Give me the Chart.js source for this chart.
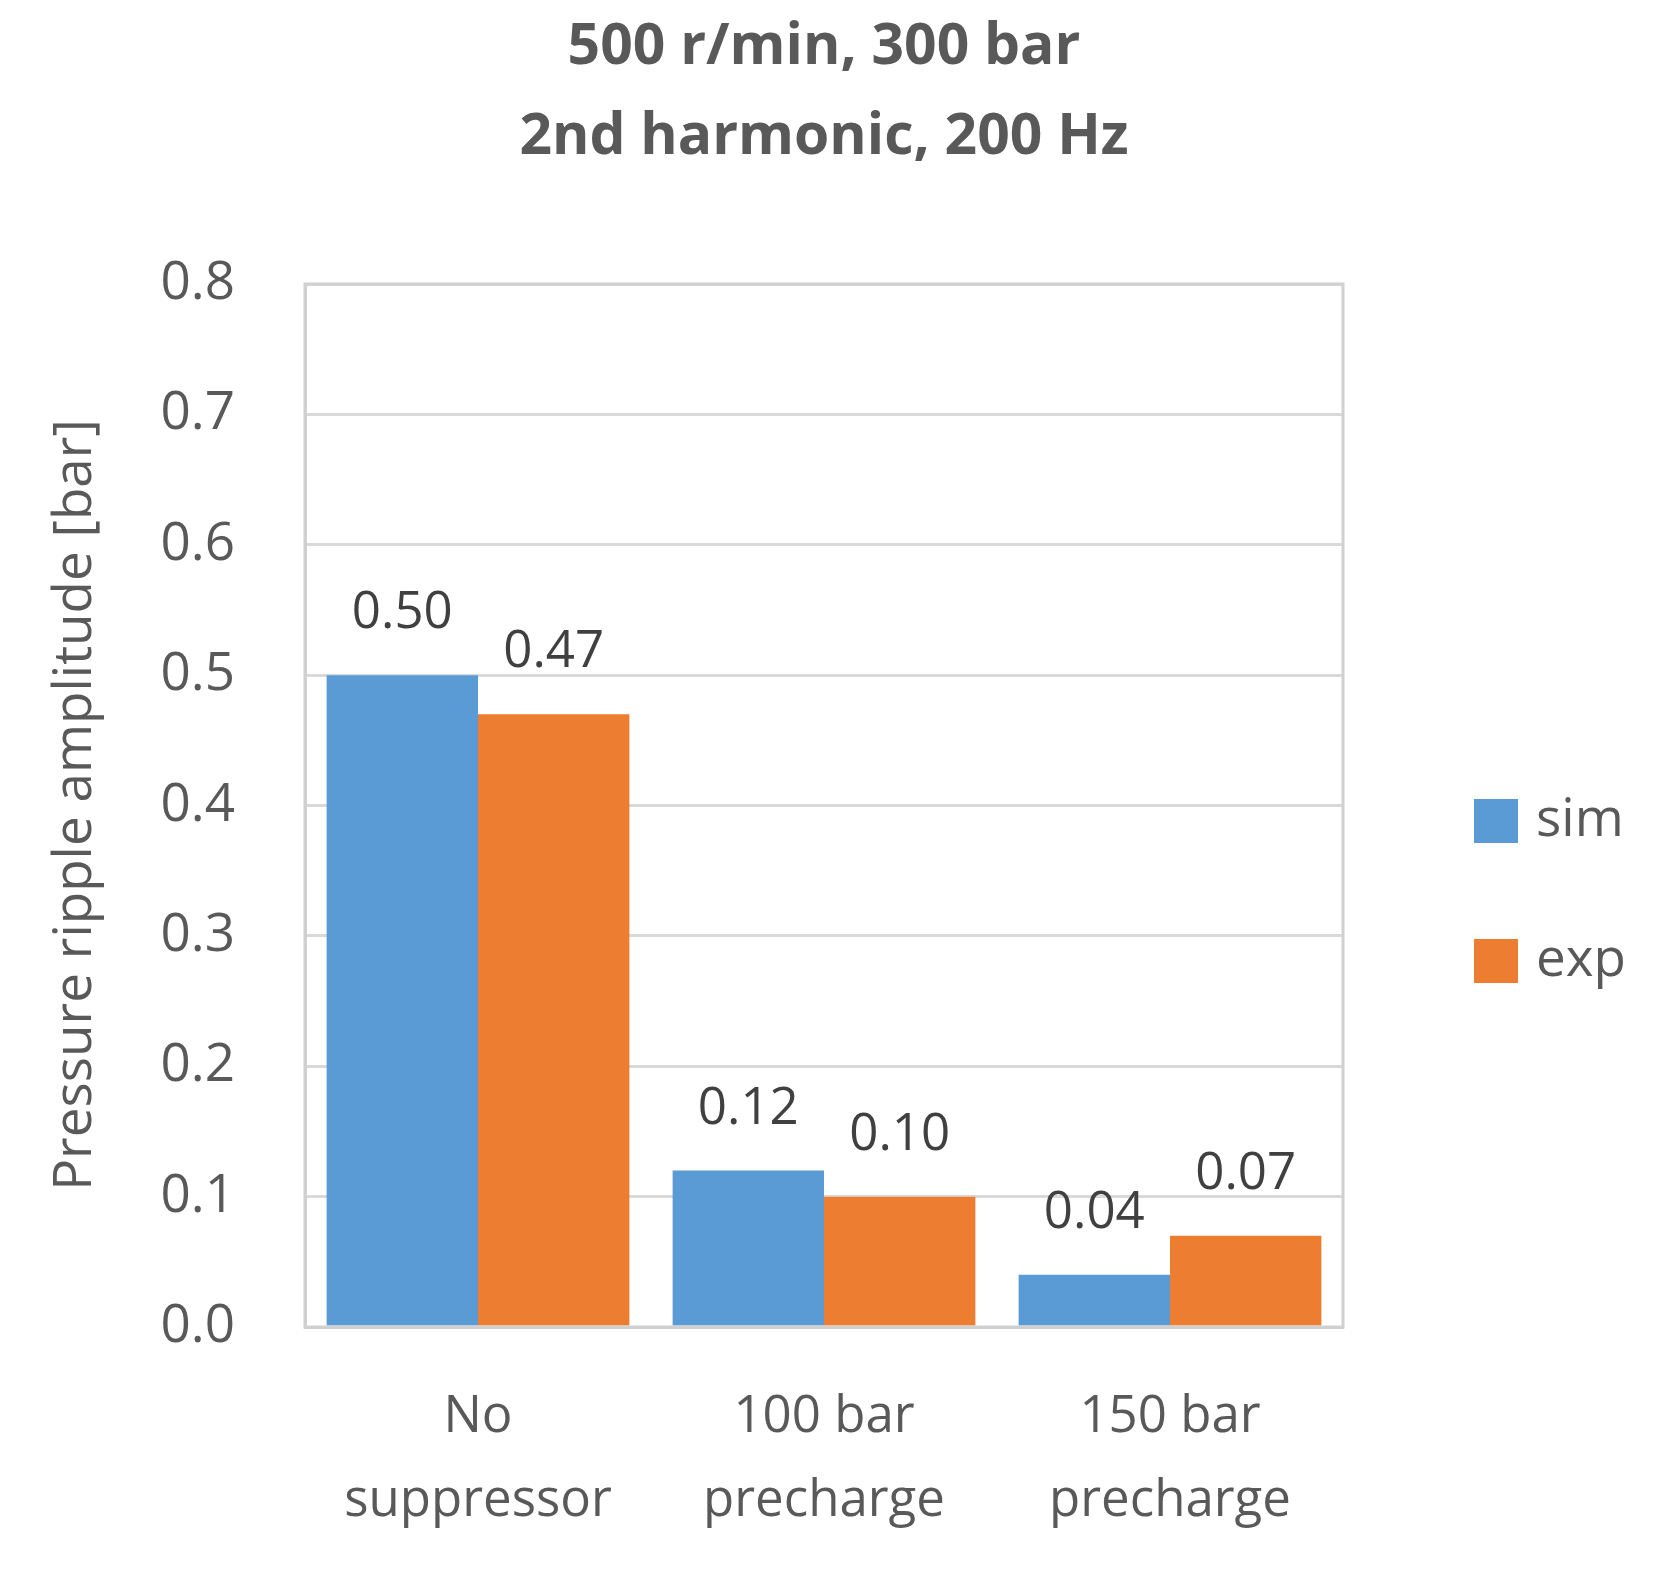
<!DOCTYPE html>
<html><head><meta charset="utf-8">
<script src="https://cdn.jsdelivr.net/npm/chart.js@4"></script>
<style>body{margin:0;background:#fff}canvas{display:block}</style>
</head><body>
<canvas id="c" width="1659" height="1582"></canvas>
<script>
const categories = [["No", "suppressor"], ["100 bar", "precharge"], ["150 bar", "precharge"]];
const simValues = [0.50, 0.12, 0.04];
const expValues = [0.47, 0.10, 0.07];
const titleLines = ["500 r/min, 300 bar", "2nd harmonic, 200 Hz"];
const FONT = "'Open Sans', 'Noto Sans', sans-serif";

// labels, frame, title, legend drawn by hand
const extras = {
  id: "extras",
  afterDatasetsDraw(chart) {
    const ctx = chart.ctx, a = chart.chartArea;
    ctx.save();
    ctx.strokeStyle = "#d0d0d0"; ctx.lineWidth = 3;
    ctx.strokeRect(a.left, a.top, a.right - a.left, a.bottom - a.top);
    ctx.fillStyle = "#404040"; ctx.font = "51px " + FONT;
    ctx.textAlign = "center"; ctx.textBaseline = "bottom";
    chart.data.datasets.forEach((ds, i) => {
      chart.getDatasetMeta(i).data.forEach((bar, j) => {
        ctx.fillText(ds.data[j].toFixed(2), bar.x, bar.y - 36);
      });
    });
    ctx.fillStyle = "#595959"; ctx.font = "bold 57px " + FONT;
    ctx.textBaseline = "middle";
    ctx.fillText(titleLines[0], 824, 48);
    ctx.fillText(titleLines[1], 824, 138);
    ctx.font = "53px " + FONT;
    ctx.save(); ctx.translate(76, 805); ctx.rotate(-Math.PI / 2);
    ctx.fillText("Pressure ripple amplitude [bar]", 0, 0); ctx.restore();
    ctx.textAlign = "left";
    chart.data.datasets.forEach((ds, i) => {
      const y = 821 + i * 140;
      ctx.fillStyle = ds.backgroundColor; ctx.fillRect(1474, y - 22, 44, 44);
      ctx.fillStyle = "#595959"; ctx.fillText(ds.label, 1536, y);
    });
    ctx.restore();
  }
};

new Chart(document.getElementById("c"), {
  type: "bar",
  data: {
    labels: categories,
    datasets: [
      { label: "sim", data: simValues, backgroundColor: "#5B9BD5" },
      { label: "exp", data: expValues, backgroundColor: "#ED7D31" }
    ]
  },
  options: {
    responsive: false, animation: false, devicePixelRatio: 1,
    layout: { padding: { top: 284, right: 316, left: 0, bottom: 0 } },
    datasets: { bar: { categoryPercentage: 0.875, barPercentage: 1 } },
    plugins: { legend: { display: false }, title: { display: false }, tooltip: { enabled: false } },
    scales: {
      x: {
        grid: { display: false }, border: { color: "#d0d0d0", width: 3 },
        ticks: { color: "#595959", font: { size: 51, family: FONT, lineHeight: 1.65 }, padding: 40 },
        afterFit: s => { s.height = 255; }
      },
      y: {
        min: 0, max: 0.8,
        grid: { color: "#d9d9d9", lineWidth: 3, drawTicks: false },
        border: { color: "#d0d0d0", width: 3 },
        ticks: { stepSize: 0.1, color: "#595959", font: { size: 53, family: FONT }, padding: 70,
          callback: v => v.toFixed(1) },
        afterFit: s => { s.width = 305; }
      }
    }
  },
  plugins: [extras]
});
</script>
</body></html>
